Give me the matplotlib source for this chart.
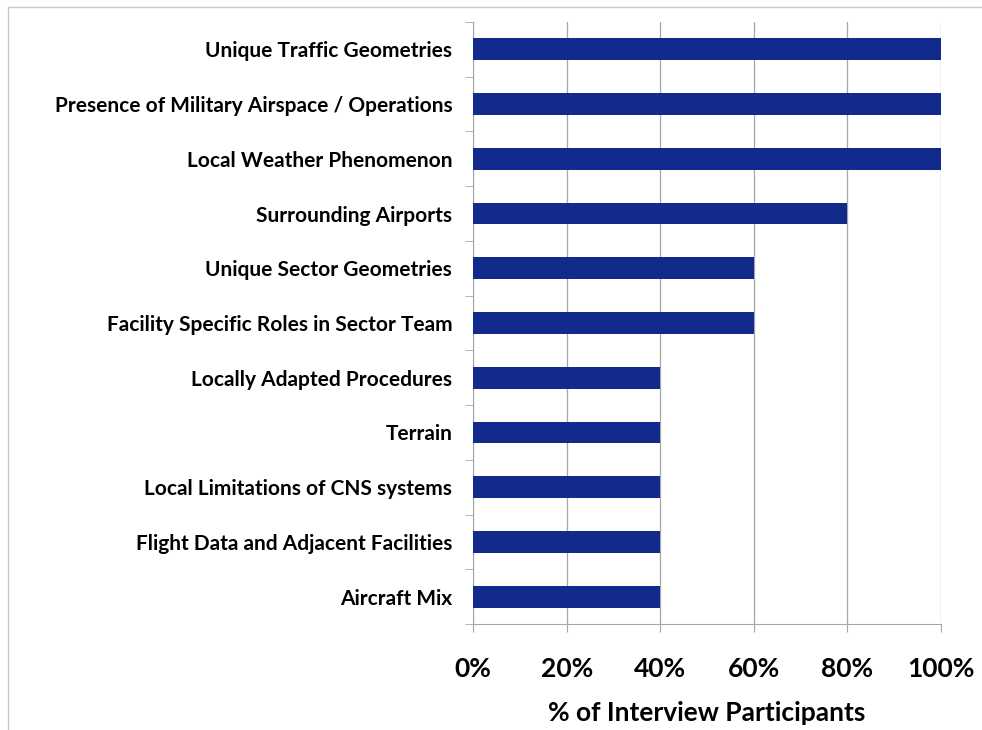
import matplotlib.pyplot as plt
from matplotlib.patches import Rectangle
from matplotlib.ticker import FuncFormatter, MultipleLocator

plt.rcParams['font.family'] = ['Lato', 'DejaVu Sans']

categories = [
    "Unique Traffic Geometries",
    "Presence of Military Airspace / Operations",
    "Local Weather Phenomenon",
    "Surrounding Airports",
    "Unique Sector Geometries",
    "Facility Specific Roles in Sector Team",
    "Locally Adapted Procedures",
    "Terrain",
    "Local Limitations of CNS systems",
    "Flight Data and Adjacent Facilities",
    "Aircraft Mix",
]
pct = [1.0, 1.0, 1.0, 0.8, 0.6, 0.6, 0.4, 0.4, 0.4, 0.4, 0.4]

bar_color = '#112a8c'
line_gray = '#a6a6a6'

fig = plt.figure(figsize=(9.82, 7.3), dpi=100)
ax = fig.add_axes([0.4817, 0.1452, 0.4766, 0.8247])

# chart frame
fig.patches.append(Rectangle((0.008, -0.01), 1.05, 1.0, transform=fig.transFigure,
                             fill=False, edgecolor='#c8c8c8', linewidth=1.0))

ypos = list(range(len(categories)))
ax.barh(ypos, pct, height=0.4, color=bar_color, zorder=3)
ax.set_ylim(len(categories) - 0.5, -0.5)
ax.set_xlim(0, 1)

ax.set_yticks(ypos)
ax.set_yticklabels(categories, fontsize=15, fontweight='bold')
ax.set_yticks([i - 0.5 for i in range(len(categories) + 1)], minor=True)
ax.tick_params(axis='y', which='major', length=0, pad=15)
ax.tick_params(axis='y', which='minor', length=6, color=line_gray, direction='out')

ax.xaxis.set_major_locator(MultipleLocator(0.2))
ax.xaxis.set_major_formatter(FuncFormatter(lambda v, p: f"{v * 100:.0f}%"))
ax.tick_params(axis='x', length=6, color=line_gray, labelsize=19, pad=18)
for lbl in ax.get_xticklabels():
    lbl.set_fontweight('bold')
ax.grid(axis='x', color=line_gray, linewidth=0.9, zorder=0)

for side in ['top', 'right']:
    ax.spines[side].set_visible(False)
for side in ['left', 'bottom']:
    ax.spines[side].set_color(line_gray)

ax.set_xlabel('% of Interview Participants', fontsize=19, fontweight='bold', labelpad=14)

fig.savefig('out.png', dpi=100)
